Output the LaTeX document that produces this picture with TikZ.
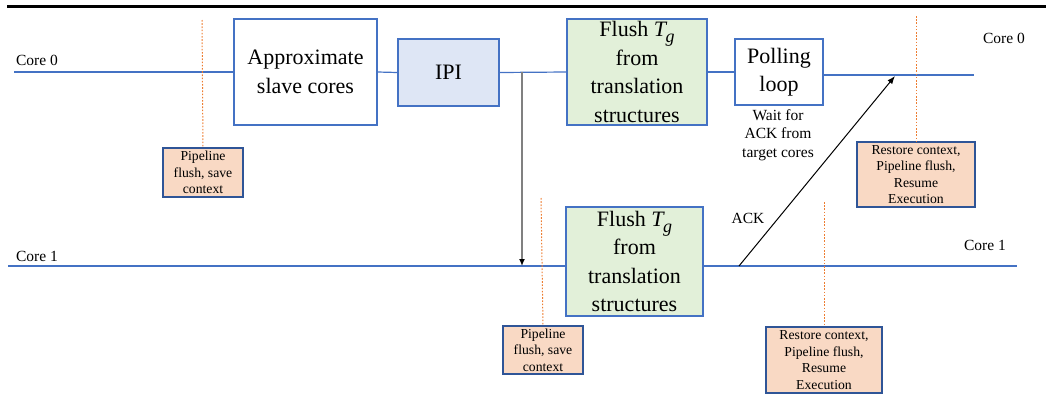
\documentclass[tikz,border=0pt]{standalone}
\usepackage{fontspec}
\setmainfont{Liberation Serif}
\usetikzlibrary{arrows.meta}
\definecolor{lineblue}{HTML}{4472C4}
\definecolor{darkblue}{HTML}{2F5597}
\definecolor{ipifill}{HTML}{DEE6F5}
\definecolor{flushfill}{HTML}{E2F0D9}
\definecolor{peach}{HTML}{F9D9C4}
\definecolor{orangedot}{HTML}{ED7D31}
\newcommand{\Tg}{{\itshape T\kern-0.02em\raisebox{-0.28em}{\fontsize{18}{18}\selectfont g}}}
\tikzset{
  bigbox/.style={draw=lineblue, line width=1.2pt, inner sep=0pt, align=center,
    font=\rmfamily\fontsize{22}{28.5}\selectfont},
  smallbox/.style={draw=darkblue, line width=1.2pt, fill=peach, inner sep=0pt, align=center,
    font=\rmfamily\fontsize{13.7}{16.6}\selectfont},
  coreline/.style={draw=lineblue, line width=1.2pt},
  dotline/.style={draw=orangedot, line width=1pt, dash pattern=on 1.6pt off 1.6pt},
  lbl/.style={inner sep=0pt, font=\rmfamily\fontsize{15.5}{18.5}\selectfont, align=center},
}
\begin{document}
\begin{tikzpicture}[x=1pt,y=-1pt]
\useasboundingbox (0,0) rectangle (1046,413);
\draw[line width=3pt] (7,6) -- (1046,6);

% boxes
\node[bigbox, minimum width=143pt, minimum height=106pt] (approx) at (305.5,72) {Approximate\\slave cores};
\node[bigbox, fill=ipifill, minimum width=101pt, minimum height=67pt] (ipi) at (448.5,72.5) {IPI};
\node[bigbox, fill=flushfill, minimum width=140pt, minimum height=106pt] (flush0) at (637,72) {Flush \Tg\\from\\translation\\structures};
\node[bigbox, fill=white, minimum width=88pt, minimum height=66pt] (poll) at (779,72) {Polling\\loop};
\node[bigbox, fill=flushfill, minimum width=137pt, minimum height=109pt] (flush1) at (634.5,261.5) {Flush \Tg\\from\\translation\\structures};

\node[smallbox, minimum width=80pt, minimum height=49pt] (pf0) at (203,172.5) {Pipeline\\flush, save\\context};
\node[smallbox, minimum width=80pt, minimum height=48pt] (pf1) at (543,350) {Pipeline\\flush, save\\context};
\node[smallbox, minimum width=118pt, minimum height=65pt] (rs0) at (916,174.5) {Restore context,\\Pipeline flush,\\Resume\\Execution};
\node[smallbox, minimum width=116pt, minimum height=66pt] (rs1) at (824,360) {Restore context,\\Pipeline flush,\\Resume\\Execution};

% labels
\node[lbl] (c0l) at (37,60) {Core 0};
\node[lbl] (c0r) at (1004,38) {Core 0};
\node[lbl] (c1l) at (37,256) {Core 1};
\node[lbl] (c1r) at (985,245) {Core 1};
\node[lbl] (wait) at (778,135) {Wait for\\ACK from\\target cores};
\node[lbl] (ack) at (748,218) {ACK};

% coordinates
\coordinate (c0start) at (14,72);
\coordinate (c0end) at (974,75);
\coordinate (c1start) at (8,266);
\coordinate (c1end) at (1017,266);
\coordinate (tap) at (522,72);
\coordinate (ackstart) at (739,266);
\coordinate (acktip) at (895,76);
\coordinate (d0) at (202,20);
\coordinate (d1) at (541,198);
\coordinate (d2) at (916,16);
\coordinate (d3) at (824,202);

% core lines
\draw[coreline] (c0start) -- (approx.west);
\draw[coreline] (approx.east) -- (ipi.west);
\draw[coreline] (ipi.east) -- (flush0.west);
\draw[coreline] (flush0.east) -- (poll.west);
\draw[coreline] (poll.east |- c0end) -- (c0end);
\draw[coreline] (c1start) -- (flush1.west |- c1start);
\draw[coreline] (flush1.east |- c1end) -- (c1end);

% dotted markers
\draw[dotline] (d0) -- (pf0.north);
\draw[dotline] (d1) -- (pf1.north);
\draw[dotline] (d2) -- (rs0.north);
\draw[dotline] (d3) -- (rs1.north);

% arrows
\draw[draw=gray, line width=2pt, -{Latex[length=7pt,width=6pt,color=black]}] (tap) -- (tap |- c1start);
\draw[line width=1pt, -{Latex[length=8pt,width=6pt]}] (ackstart) -- (acktip);
\end{tikzpicture}
\end{document}
